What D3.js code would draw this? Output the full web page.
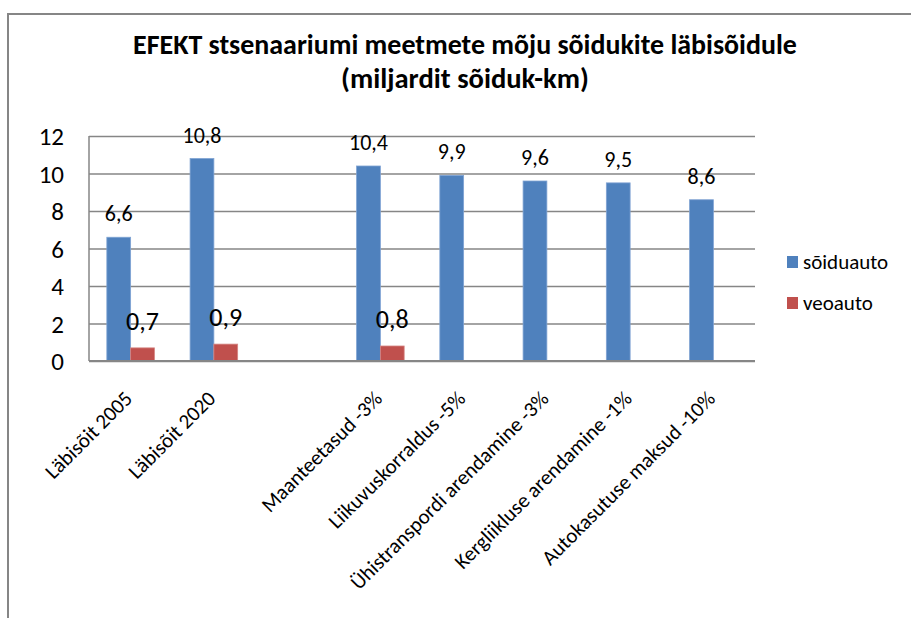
<!DOCTYPE html>
<html>
<head>
<meta charset="utf-8">
<script src="https://cdn.jsdelivr.net/npm/d3@7"></script>
<style>
  html, body { margin: 0; padding: 0; background: #fff; }
  svg { display: block; font-family: Carlito, Lato, "Liberation Sans", sans-serif; }
</style>
</head>
<body>
<svg id="chart" width="911" height="618"></svg>
<script>
// Vehicle mileage by scenario measure (billion vehicle-km)
const categories = [
  "Läbisõit 2005",
  "Läbisõit 2020",
  "",
  "Maanteetasud -3%",
  "Liikuvuskorraldus -5%",
  "Ühistranspordi arendamine -3%",
  "Kergliikluse arendamine -1%",
  "Autokasutuse maksud -10%"
];
const seriesNames = ["sõiduauto", "veoauto"];
const soiduauto = [6.6, 10.8, null, 10.4, 9.9, 9.6, 9.5, 8.6];
const veoauto   = [0.7, 0.9, null, 0.8, null, null, null, null];
const yTicks = [0, 2, 4, 6, 8, 10, 12];
const titleLines = [
  "EFEKT stsenaariumi meetmete mõju sõidukite läbisõidule",
  "(miljardit sõiduk-km)"
];

const colors = { "sõiduauto": "#4F81BD", "veoauto": "#C0504D" };
const strokes = { "sõiduauto": "#7FA3D3", "veoauto": "#D58482" };
const gridColor = "#868686";

const svg = d3.select("#chart");

// Frame (left and top edges)
svg.append("path")
  .attr("d", "M8,618V14H911")
  .attr("fill", "none")
  .attr("stroke", gridColor)
  .attr("stroke-width", 2);

// Title, each line fitted to its width
const titleSpecs = [
  { y: 54, width: 664 },
  { y: 88, width: 248 }
];
titleLines.forEach((line, i) => {
  const t = svg.append("text")
    .attr("x", 465)
    .attr("y", titleSpecs[i].y)
    .attr("text-anchor", "middle")
    .attr("font-weight", "bold")
    .attr("font-size", 22)
    .attr("fill", "#000")
    .text(line);
  const w = t.node().getComputedTextLength();
  if (w > 0) t.attr("font-size", 22 * titleSpecs[i].width / w);
});

const plot = { left: 89, right: 755, top: 136, bottom: 361 };

const x = d3.scaleBand()
  .domain(categories)
  .range([plot.left, plot.right])
  .paddingInner(1.5 / 3.5)
  .paddingOuter(0.75 / 3.5);

const xs = d3.scaleBand()
  .domain(seriesNames)
  .range([0, x.bandwidth()]);

const y = d3.scaleLinear()
  .domain([0, 12])
  .range([plot.bottom, plot.top]);

// Horizontal gridlines
svg.append("g")
  .attr("transform", `translate(${plot.left},0)`)
  .call(d3.axisLeft(y).tickValues(yTicks).tickSize(-(plot.right - plot.left)).tickFormat(""))
  .call(g => g.select(".domain").remove())
  .call(g => g.selectAll("line").attr("stroke", gridColor).attr("stroke-width", 1.5));

// Left axis line
svg.append("line")
  .attr("x1", plot.left).attr("x2", plot.left)
  .attr("y1", plot.top).attr("y2", plot.bottom)
  .attr("stroke", gridColor).attr("stroke-width", 1.5);

// Y axis labels
svg.append("g")
  .attr("transform", `translate(${plot.left - 25},0)`)
  .call(d3.axisLeft(y).tickValues(yTicks).tickSize(0).tickPadding(0))
  .attr("font-family", null)
  .attr("font-size", null)
  .call(g => g.select(".domain").remove())
  .call(g => g.selectAll("text")
    .attr("font-size", 25)
    .attr("fill", "#000")
    .attr("x", 0)
    .attr("dy", "0.35em"));

// Bars
const rows = [];
categories.forEach((c, i) => {
  [soiduauto[i], veoauto[i]].forEach((v, j) => {
    if (v !== null) rows.push({ cat: c, series: seriesNames[j], value: v });
  });
});

svg.append("g")
  .selectAll("rect")
  .data(rows)
  .join("rect")
  .attr("x", d => x(d.cat) + xs(d.series))
  .attr("y", d => y(d.value))
  .attr("width", xs.bandwidth())
  .attr("height", d => y(0) - y(d.value))
  .attr("fill", d => colors[d.series])
  .attr("stroke", d => strokes[d.series])
  .attr("stroke-width", 0.8);

// Bottom axis line
svg.append("line")
  .attr("x1", plot.left).attr("x2", plot.right)
  .attr("y1", plot.bottom).attr("y2", plot.bottom)
  .attr("stroke", gridColor).attr("stroke-width", 1.8);

// Value labels
const fmt = v => String(v.toFixed(1)).replace(".", ",");
svg.append("g")
  .selectAll("text")
  .data(rows)
  .join("text")
  .attr("x", d => x(d.cat) + xs(d.series) + xs.bandwidth() / 2)
  .attr("y", d => y(d.value) - (d.series === "veoauto" ? 18 : 16))
  .attr("text-anchor", "middle")
  .attr("font-size", d => d.series === "veoauto" ? 26 : 22)
  .attr("fill", "#000")
  .text(d => fmt(d.value));

// Category labels
svg.append("g")
  .attr("transform", `translate(0,${plot.bottom})`)
  .call(d3.axisBottom(x).tickSize(0))
  .attr("font-family", null)
  .attr("font-size", null)
  .call(g => g.select(".domain").remove())
  .call(g => g.selectAll("text")
    .attr("font-size", 21)
    .attr("fill", "#000")
    .attr("y", 0)
    .attr("dy", 0)
    .attr("text-anchor", "end")
    .attr("transform", "translate(3,39) rotate(-45)"));

// Legend
const legend = svg.append("g");
seriesNames.forEach((s, i) => {
  const ly = 262 + i * 41;
  legend.append("rect")
    .attr("x", 787).attr("y", ly - 6)
    .attr("width", 11).attr("height", 12)
    .attr("fill", colors[s]);
  legend.append("text")
    .attr("x", 803).attr("y", ly)
    .attr("dy", "0.35em")
    .attr("font-size", 21)
    .attr("fill", "#000")
    .text(s);
});
</script>
</body>
</html>
